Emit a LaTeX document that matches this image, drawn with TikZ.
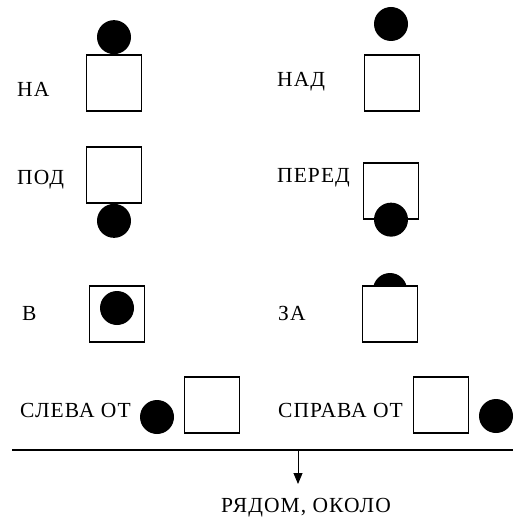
\documentclass[tikz,border=0pt]{standalone}
\usepackage{fontspec}
\setmainfont{Liberation Serif}
\usetikzlibrary{arrows.meta,positioning}

\tikzset{
    box/.style={draw, line width=1.3pt, fill=white, minimum width=55pt, minimum height=56pt, inner sep=0pt},
    ball/.style={circle, fill=black, minimum size=34pt, inner sep=0pt},
    word/.style={anchor=west, inner sep=0pt, font=\fontsize{21.5}{24}\selectfont\addfontfeature{LetterSpace=5}},
}

\begin{document}
\begin{tikzpicture}[x=1pt, y=-1pt]
    \useasboundingbox (0, 0) rectangle (513, 521);

    % left column
    \node[word] (naword) at (17, 89) {НА};
    \node[box] (na) at (114, 83) {};
    \node[ball, anchor=south] (naball) at (na.north) {};

    \node[word] (podword) at (17, 180) {ПОД};
    \node[box] (pod) at (114, 175) {};
    \node[ball, anchor=north] (podball) at (pod.south) {};

    \node[word] (vword) at (22, 313) {В};
    \node[box] (v) at (117, 314) {};
    \node[ball] (vball) at (117, 308) {};

    % right column
    \node[word] (nadword) at (277, 82) {НАД};
    \node[box] (nad) at (392, 83) {};
    \node[ball] (nadball) at (391, 24) {};

    \node[word] (peredword) at (277, 178) {ПЕРЕД};
    \node[box] (pered) at (391, 191) {};
    \node[ball] (peredball) at (pered.south) {};

    \node[word] (zaword) at (278, 313) {ЗА};
    \node[ball] (zaball) at (390, 290) {};
    \node[box] (za) at (390, 314) {};

    % bottom row
    \node[word] (slevaword) at (20, 410) {СЛЕВА ОТ};
    \node[box] (sleva) at (212, 405) {};
    \node[ball] (slevaball) at (157, 417) {};

    \node[word] (spravaword) at (278, 410) {СПРАВА ОТ};
    \node[box] (sprava) at (441, 405) {};
    \node[ball] (spravaball) at (496, 416) {};

    % rule and arrow
    \coordinate (ruleleft) at (12, 450);
    \coordinate (ruleright) at (513, 450);
    \coordinate (rulemid) at (298, 450);
    \draw[line width=1.3pt] (ruleleft) -- (ruleright);

    \node[word, anchor=center] (ryadom) at (306, 508) {РЯДОМ, ОКОЛО};
    \draw[line width=0.9pt, -{Triangle[length=11pt, width=9pt]}] (rulemid) -- (298, 484);
\end{tikzpicture}
\end{document}
